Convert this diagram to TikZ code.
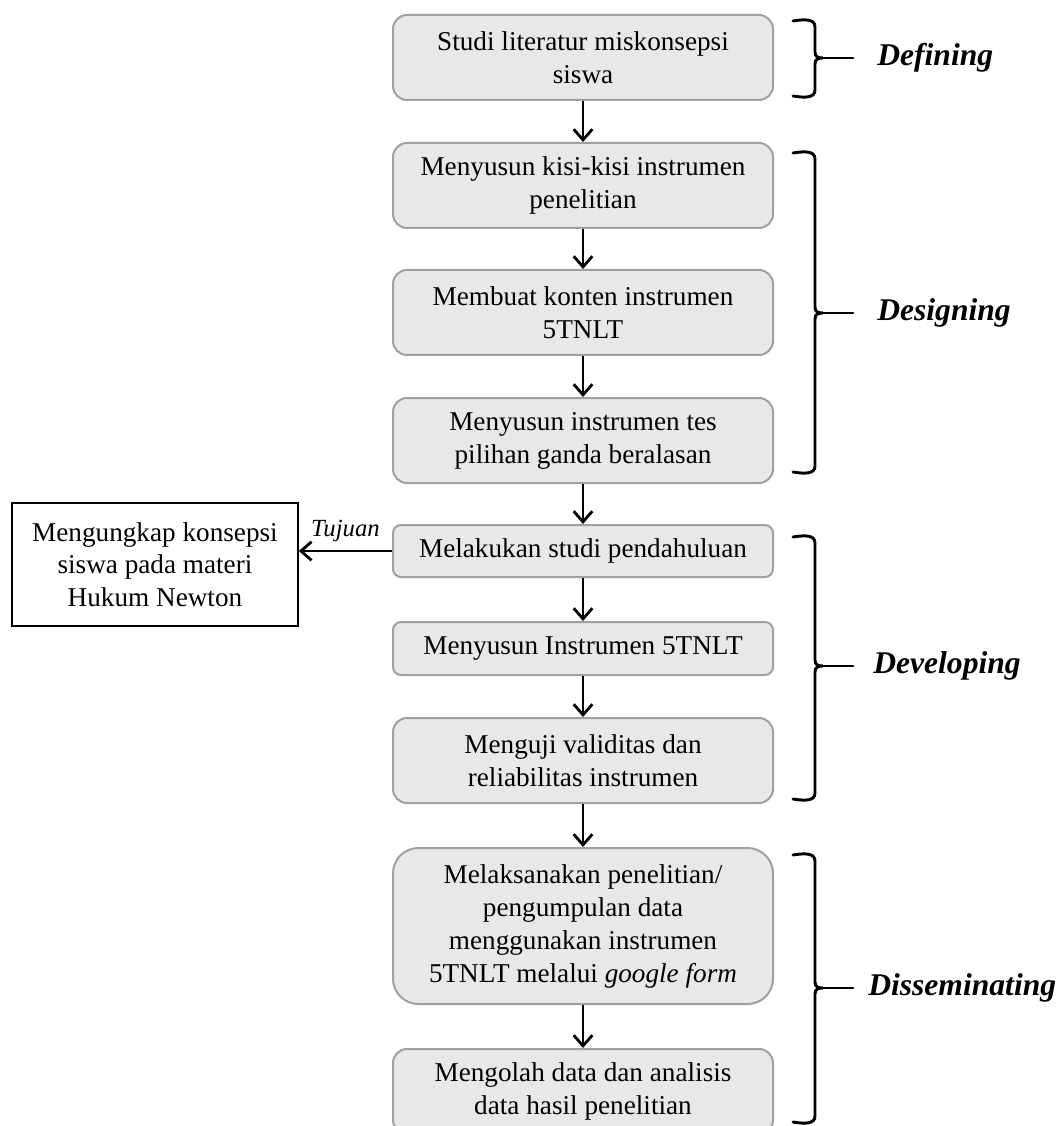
\documentclass[tikz,border=0pt]{standalone}
\usepackage{fontspec}
\setmainfont{Liberation Serif}
\usetikzlibrary{arrows.meta}
\definecolor{boxfill}{RGB}{232,232,232}
\definecolor{boxline}{RGB}{160,160,160}
\newcommand\phasebrace[3]{% top, bottom, middle (px)
  \draw[bracestyle] (793,#1+1) .. controls (805,#1-1) and (815,#1-1) .. (815,#1+7)
    -- (815,#3-6) .. controls (815,#3-1) and (818,#3) .. (823,#3)
    .. controls (818,#3) and (815,#3+1) .. (815,#3+6)
    -- (815,#2-7) .. controls (815,#2+1) and (805,#2+1) .. (793,#2-1);
  \draw[bracestyle] (823,#3) -- (853,#3);
}
\begin{document}
\begin{tikzpicture}[x=0.75pt,y=-0.75pt,
  flowbox/.style={draw=boxline, fill=boxfill, line width=1.5pt, rounded corners=#1,
    minimum width=285pt, align=center, inner sep=0pt,
    font=\fontsize{20.4}{24.75}\selectfont},
  flowbox/.default=10pt,
  plainbox/.style={draw=black, line width=1.2pt, minimum width=214.5pt, minimum height=92pt,
    align=center, inner sep=0pt, font=\fontsize{20.4}{24.5}\selectfont},
  flowarrow/.style={draw=black, line width=2.1pt, -{Straight Barb[length=8pt,width=14pt,line width=2.1pt]}},
  bracestyle/.style={draw=black, line width=2.2pt, line cap=round},
  phaselabel/.style={anchor=west, inner sep=0pt, font=\fontsize{23.7}{28}\selectfont\bfseries\itshape},
  smalllabel/.style={inner sep=0pt, font=\fontsize{18.5}{22}\selectfont\itshape}
]
\useasboundingbox (0,0) rectangle (1063,1126);

\node[flowbox=10.5pt, minimum height=63.75pt] (b1) at (583,57.5) {Studi literatur miskonsepsi\\siswa};
\node[flowbox=10.5pt, minimum height=63.75pt] (b2) at (583,185.5) {Menyusun kisi-kisi instrumen\\penelitian};
\node[flowbox=10.5pt, minimum height=63.75pt] (b3) at (583,312.5) {Membuat konten instrumen\\5TNLT};
\node[flowbox=10.5pt, minimum height=63.75pt] (b4) at (583,440.5) {Menyusun instrumen tes\\pilihan ganda beralasan};
\node[flowbox=6pt, minimum height=39pt] (b5) at (583,551) {Melakukan studi pendahuluan};
\node[flowbox=6pt, minimum height=39.75pt] (b6) at (583,648.5) {Menyusun Instrumen 5TNLT};
\node[flowbox=10.5pt, minimum height=63.75pt] (b7) at (583,760.5) {Menguji validitas dan\\reliabilitas instrumen};
\node[flowbox=19pt, minimum height=117pt] (b8) at (583,926) {Melaksanakan penelitian/\\pengumpulan data\\menggunakan instrumen\\5TNLT melalui \textit{google form}};
\node[flowbox=10.5pt, minimum height=63.75pt] (b9) at (583,1091.5) {Mengolah data dan analisis\\data hasil penelitian};

\node[plainbox] (goal) at (155,564.5) {Mengungkap konsepsi\\siswa pada materi\\Hukum Newton};

\draw[flowarrow] (b1) -- (b2);
\draw[flowarrow] (b2) -- (b3);
\draw[flowarrow] (b3) -- (b4);
\draw[flowarrow] (b4) -- (b5);
\draw[flowarrow] (b5) -- (b6);
\draw[flowarrow] (b6) -- (b7);
\draw[flowarrow] (b7) -- (b8);
\draw[flowarrow] (b8) -- (b9);
\draw[flowarrow] (b5.west) -- (b5.west -| goal.east) node[midway, above=6pt, smalllabel] (tuj) {Tujuan};

\phasebrace{20}{97}{58}
\phasebrace{152}{473}{313}
\phasebrace{536}{800}{666}
\phasebrace{854}{1123}{988}

\node[phaselabel] (ldef) at (877,58) {Defining};
\node[phaselabel] (ldes) at (877,313) {Designing};
\node[phaselabel] (ldev) at (873,666) {Developing};
\node[phaselabel] (ldis) at (868,988) {Disseminating};
\end{tikzpicture}
\end{document}
